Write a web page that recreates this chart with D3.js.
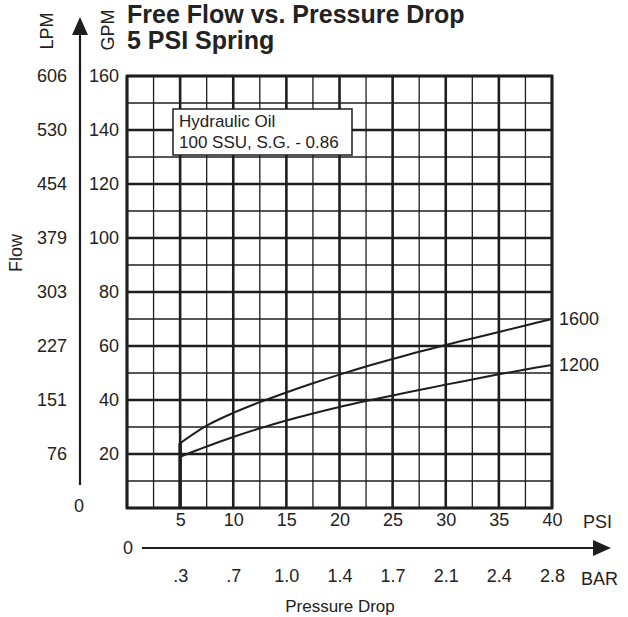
<!DOCTYPE html>
<html>
<head lang="en">
    <meta charset="UTF-8">
    <title>Free Flow vs. Pressure Drop</title>
    <style>
        body { margin: 0; background: #fff; }
        text { font-family: "Liberation Sans", Arial, sans-serif; fill: #222; }
    </style>
</head>
<body>
<svg width="628" height="617"></svg>
<script src="https://cdn.jsdelivr.net/npm/d3@7/dist/d3.min.js"></script>
<script>
    // values
    var psi1600 = [5, 7.5, 10, 12.5, 15, 17.5, 20, 22.5, 25, 27.5, 30, 32.5, 35, 37.5, 40];
    var gpm1600 = [24, 30.5, 35.2, 39.2, 42.8, 46.2, 49.4, 52.4, 55.2, 57.9, 60.4, 62.8, 65.2, 67.6, 70];
    var psi1200 = [5, 7.5, 10, 12.5, 15, 17.5, 20, 22.5, 25, 27.5, 30, 32.5, 35, 37.5, 40];
    var gpm1200 = [19, 22.8, 26.3, 29.5, 32.4, 35, 37.4, 39.6, 41.7, 43.7, 45.7, 47.6, 49.5, 51.3, 53];
    var seriesNames = ["1600", "1200"];

    var gpmTicks = [20, 40, 60, 80, 100, 120, 140, 160];
    var lpmLabels = ["76", "151", "227", "303", "379", "454", "530", "606"];
    var psiTicks = [5, 10, 15, 20, 25, 30, 35, 40];
    var barLabels = [".3", ".7", "1.0", "1.4", "1.7", "2.1", "2.4", "2.8"];
    var noteLines = ["Hydraulic Oil", "100 SSU, S.G. - 0.86"];

    var svg = d3.select("svg"),
        MARGINS = {top: 76, right: 76, bottom: 109, left: 127},
        WIDTH = +svg.attr("width"),
        HEIGHT = +svg.attr("height");

    var xScale = d3.scaleLinear().domain([0, 40])
        .range([MARGINS.left, WIDTH - MARGINS.right]);
    var yScale = d3.scaleLinear().domain([0, 160])
        .range([HEIGHT - MARGINS.bottom, MARGINS.top]);
    var ink = "#1e1e1e";

    // grid
    var grid = svg.append("g");
    d3.range(0, 40.01, 2.5).forEach(function (v) {
        grid.append("line")
            .attr("x1", xScale(v)).attr("x2", xScale(v))
            .attr("y1", yScale(0)).attr("y2", yScale(160))
            .attr("stroke", ink)
            .attr("stroke-width", v % 5 === 0 ? 2.6 : 1.3);
    });
    d3.range(0, 160.01, 10).forEach(function (v) {
        grid.append("line")
            .attr("x1", xScale(0)).attr("x2", xScale(40))
            .attr("y1", yScale(v)).attr("y2", yScale(v))
            .attr("stroke", ink)
            .attr("stroke-width", v % 20 === 0 ? 2.6 : 1.3);
    });
    grid.append("rect")
        .attr("x", xScale(0)).attr("y", yScale(160))
        .attr("width", xScale(40) - xScale(0))
        .attr("height", yScale(0) - yScale(160))
        .attr("fill", "none").attr("stroke", ink).attr("stroke-width", 2.8);

    // note box
    var note = svg.append("g");
    note.append("rect")
        .attr("x", 173).attr("y", 109).attr("width", 179).attr("height", 46)
        .attr("fill", "#fff").attr("stroke", ink).attr("stroke-width", 1.5);
    note.selectAll("text").data(noteLines).enter().append("text")
        .attr("x", 179).attr("y", function (d, i) { return 127 + i * 21; })
        .attr("font-size", 17).text(function (d) { return d; });

    // curves
    var lineGen = d3.line()
        .x(function (d) { return xScale(d[0]); })
        .y(function (d) { return yScale(d[1]); })
        .curve(d3.curveCatmullRom);
    var series = [d3.zip(psi1600, gpm1600), d3.zip(psi1200, gpm1200)];
    svg.selectAll(".curve").data(series).enter().append("path")
        .attr("class", "curve")
        .attr("d", lineGen)
        .attr("fill", "none").attr("stroke", ink).attr("stroke-width", 2);
    svg.append("line")
        .attr("x1", xScale(5)).attr("x2", xScale(5))
        .attr("y1", yScale(0)).attr("y2", yScale(gpm1600[0]))
        .attr("stroke", ink).attr("stroke-width", 3.5);
    svg.selectAll(".lbl").data(series).enter().append("text")
        .attr("class", "lbl")
        .attr("x", xScale(40) + 7)
        .attr("y", function (d) { return yScale(d[d.length - 1][1]); })
        .attr("dy", "0.35em").attr("font-size", 18)
        .text(function (d, i) { return seriesNames[i]; });

    // axes
    function clean(g) {
        g.select(".domain").remove();
        g.selectAll("text").attr("fill", ink).style("font-family", "Liberation Sans, Arial, sans-serif");
    }
    svg.append("g")
        .attr("transform", "translate(119,0)")
        .call(d3.axisLeft(yScale).tickValues(gpmTicks).tickSize(0).tickPadding(0))
        .attr("font-size", 18).call(clean);
    svg.append("g")
        .attr("transform", "translate(67,0)")
        .call(d3.axisLeft(yScale).tickValues(gpmTicks).tickSize(0).tickPadding(0)
            .tickFormat(function (d, i) { return lpmLabels[i]; }))
        .attr("font-size", 18).call(clean);
    svg.append("g")
        .attr("transform", "translate(0,513)")
        .call(d3.axisBottom(xScale).tickValues(psiTicks).tickSize(0).tickPadding(0))
        .attr("font-size", 18).call(clean);
    svg.append("g")
        .attr("transform", "translate(0,569)")
        .call(d3.axisBottom(xScale).tickValues(psiTicks).tickSize(0).tickPadding(0)
            .tickFormat(function (d, i) { return barLabels[i]; }))
        .attr("font-size", 18).call(clean);

    // arrows
    svg.append("line").attr("x1", 80).attr("x2", 80).attr("y1", 485).attr("y2", 30)
        .attr("stroke", ink).attr("stroke-width", 2.2);
    svg.append("path").attr("d", "M80,17L72,35L88,35Z").attr("fill", ink);
    svg.append("line").attr("x1", 142).attr("x2", 598).attr("y1", 548).attr("y2", 548)
        .attr("stroke", ink).attr("stroke-width", 2.2);
    svg.append("path").attr("d", "M611,548L593,540L593,556Z").attr("fill", ink);

    // loose labels
    function label(x, y, s, size, anchor, rot) {
        var t = svg.append("text")
            .attr("font-size", size).attr("text-anchor", anchor || "start")
            .attr("dy", "0.35em").text(s);
        if (rot) t.attr("transform", "translate(" + x + "," + y + ") rotate(-90)");
        else t.attr("x", x).attr("y", y);
        return t;
    }
    label(79, 506, "0", 18, "middle");
    label(128, 548, "0", 18, "middle");
    label(583, 522, "PSI", 18);
    label(581, 579, "BAR", 18);
    label(340, 606, "Pressure Drop", 17, "middle");
    label(16, 253, "Flow", 18, "middle", true);
    label(47, 31, "LPM", 18, "middle", true);
    label(108, 30, "GPM", 18, "middle", true);

    svg.append("text").attr("x", 127).attr("y", 23)
        .attr("font-size", 25).attr("font-weight", "bold").text("Free Flow vs. Pressure Drop");
    svg.append("text").attr("x", 127).attr("y", 49)
        .attr("font-size", 25).attr("font-weight", "bold").text("5 PSI Spring");
</script>
</body>
</html>
